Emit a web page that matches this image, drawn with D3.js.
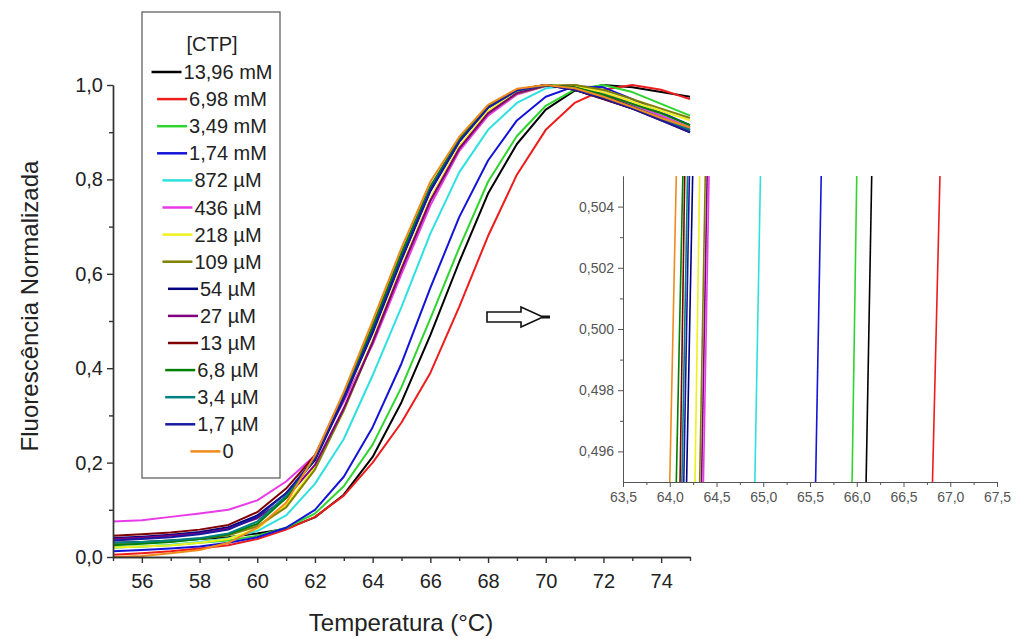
<!DOCTYPE html>
<html>
<head>
<meta charset="utf-8">
<title>Fluorescência Normalizada - CTP</title>
<script src="https://d3js.org/d3.v7.min.js"></script>
<style>
    body {
        margin: 0;
        background: #fff;
        font-family: 'Liberation Sans', Arial, sans-serif;
    }
    .axis path, .axis line { stroke: #333; stroke-width: 1.4; }
    .axis text { fill: #222; font-family: 'Liberation Sans', Arial, sans-serif; }
    .inset path, .inset line { stroke: #555; stroke-width: 1; }
    .inset text { fill: #555; font-family: 'Liberation Sans', Arial, sans-serif; }
</style>
</head>
<body>
<svg id="chart" width="1018" height="639"></svg>
<script>
// temperatures (°C) of the measured points
const temps = [55,56,57,58,59,60,61,62,63,64,65,66,67,68,69,70,71,72,73,74,75];

const labels = ["13,96 mM","6,98 mM","3,49 mM","1,74 mM","872 µM","436 µM","218 µM",
                "109 µM","54 µM","27 µM","13 µM","6,8 µM","3,4 µM","1,7 µM","0"];
const colors = ["#000000","#ee1c1c","#2ed52e","#1414d8","#2fe0e0","#e83ae8","#f0f01e",
                "#808000","#000080","#800080","#800000","#008000","#008080","#1a1aa0","#f08a1c"];

// normalized fluorescence, one value per temperature
const c13_96mM = [0.030,0.032,0.035,0.038,0.042,0.050,0.060,0.084,0.132,0.212,0.328,0.470,0.625,0.770,0.875,0.948,0.988,1.000,0.995,0.985,0.975];
const c6_98mM  = [0.005,0.008,0.012,0.018,0.025,0.038,0.058,0.085,0.130,0.200,0.285,0.390,0.530,0.680,0.810,0.905,0.962,0.990,1.000,0.990,0.970];
const c3_49mM  = [0.020,0.022,0.025,0.030,0.035,0.045,0.062,0.092,0.150,0.238,0.360,0.505,0.655,0.795,0.892,0.956,0.990,1.000,0.985,0.960,0.935];
const c1_74mM  = [0.012,0.015,0.018,0.022,0.030,0.042,0.062,0.100,0.170,0.275,0.410,0.570,0.720,0.840,0.925,0.975,0.997,0.995,0.970,0.942,0.915];
const c872uM   = [0.020,0.022,0.026,0.032,0.040,0.055,0.088,0.155,0.250,0.385,0.530,0.685,0.815,0.905,0.962,0.993,1.000,0.985,0.960,0.935,0.910];
const c436uM   = [0.075,0.078,0.085,0.092,0.100,0.120,0.160,0.215,0.330,0.450,0.600,0.745,0.860,0.935,0.980,0.998,1.000,0.985,0.960,0.935,0.910];
const c218uM   = [0.020,0.022,0.025,0.030,0.038,0.060,0.110,0.190,0.315,0.460,0.615,0.760,0.870,0.945,0.985,1.000,0.998,0.985,0.965,0.945,0.925];
const c109uM   = [0.028,0.030,0.033,0.038,0.046,0.065,0.105,0.185,0.310,0.455,0.610,0.755,0.865,0.940,0.982,0.998,1.000,0.990,0.970,0.950,0.930];
const c54uM    = [0.040,0.043,0.047,0.053,0.063,0.088,0.135,0.205,0.335,0.475,0.630,0.775,0.880,0.952,0.990,1.000,0.990,0.970,0.950,0.930,0.905];
const c27uM    = [0.038,0.041,0.045,0.050,0.060,0.082,0.125,0.195,0.315,0.455,0.610,0.755,0.865,0.940,0.983,0.999,0.995,0.978,0.955,0.930,0.905];
const c13uM    = [0.045,0.048,0.052,0.058,0.068,0.095,0.145,0.215,0.345,0.485,0.640,0.780,0.885,0.955,0.990,1.000,0.990,0.970,0.950,0.925,0.900];
const c6_8uM   = [0.025,0.028,0.032,0.038,0.048,0.070,0.125,0.210,0.345,0.490,0.645,0.785,0.885,0.955,0.990,1.000,0.995,0.980,0.960,0.940,0.915];
const c3_4uM   = [0.030,0.032,0.035,0.040,0.050,0.075,0.130,0.210,0.340,0.480,0.635,0.780,0.880,0.952,0.988,1.000,0.993,0.975,0.953,0.930,0.905];
const c1_7uM   = [0.035,0.038,0.042,0.048,0.058,0.085,0.135,0.210,0.338,0.478,0.632,0.777,0.880,0.952,0.989,1.000,0.990,0.972,0.950,0.925,0.900];
const c0       = [0.000,0.002,0.008,0.015,0.030,0.062,0.115,0.215,0.350,0.500,0.655,0.795,0.890,0.958,0.992,1.000,0.993,0.975,0.953,0.930,0.910];

const curves = [c13_96mM,c6_98mM,c3_49mM,c1_74mM,c872uM,c436uM,c218uM,
                c109uM,c54uM,c27uM,c13uM,c6_8uM,c3_4uM,c1_7uM,c0];

// zoom around F = 0,5 : temperature where each curve crosses 0,495 and 0,505
const insetY = [0.495, 0.505];
const insetLow  = [66.10,66.81,65.95,65.56,64.91,64.36,64.27,64.32,64.18,64.34,64.11,64.07,64.13,64.15,64.00];
const insetHigh = [66.16,66.89,66.00,65.62,64.97,64.42,64.32,64.38,64.245,64.40,64.16,64.14,64.19,64.21,64.07];

const svg = d3.select("#chart");
const loc = d3.formatLocale({decimal: ",", thousands: ".", grouping: [3], currency: ["", ""]});

// ---- main plot ----
const x = d3.scaleLinear().domain([55, 75]).range([113, 690]);
const y = d3.scaleLinear().domain([0, 1.0]).range([557, 85]);

const line = d3.line().x((d, i) => x(temps[i])).y(d => y(d));

svg.append("g")
    .selectAll("path")
    .data(curves)
    .join("path")
    .attr("d", d => line(d))
    .attr("fill", "none")
    .attr("stroke", (d, i) => colors[i])
    .attr("stroke-width", 2)
    .attr("stroke-linejoin", "round");

// axes
svg.append("g").attr("class", "axis")
    .attr("transform", "translate(0,557)")
    .call(d3.axisBottom(x).tickValues(d3.range(56, 75, 2)).tickSize(6).tickSizeOuter(0).tickPadding(11).tickFormat(d3.format("d")))
    .selectAll("text").style("font-size", "20px");
svg.append("g").attr("class", "axis")
    .attr("transform", "translate(0,557)")
    .call(d3.axisBottom(x).tickValues(d3.range(55, 76, 2)).tickSize(4).tickSizeOuter(0).tickFormat(""));

svg.append("g").attr("class", "axis")
    .attr("transform", "translate(113,0)")
    .call(d3.axisLeft(y).tickValues([0, 0.2, 0.4, 0.6, 0.8, 1.0]).tickSize(6).tickSizeOuter(0).tickPadding(4).tickFormat(loc.format(".1f")))
    .selectAll("text").style("font-size", "20px");
svg.append("g").attr("class", "axis")
    .attr("transform", "translate(113,0)")
    .call(d3.axisLeft(y).tickValues([0.1, 0.3, 0.5, 0.7, 0.9]).tickSize(4).tickSizeOuter(0).tickFormat(""));

svg.append("text")
    .attr("x", 401).attr("y", 631)
    .attr("text-anchor", "middle")
    .style("font-size", "24px").style("fill", "#222")
    .text("Temperatura (°C)");

svg.append("text")
    .attr("transform", "translate(38,306) rotate(-90)")
    .attr("text-anchor", "middle")
    .style("font-size", "24px").style("fill", "#222")
    .text("Fluorescência Normalizada");

// ---- legend ----
const legend = svg.append("g");
legend.append("rect")
    .attr("x", 142).attr("y", 12).attr("width", 138).attr("height", 466)
    .attr("fill", "#fff").attr("stroke", "#555").attr("stroke-width", 1.2);
legend.append("text")
    .attr("x", 212).attr("y", 51)
    .attr("text-anchor", "middle")
    .style("font-size", "20px").style("fill", "#222")
    .text("[CTP]");

labels.forEach((lab, i) => {
    const yy = 72 + i * 27.1;
    const g = legend.append("g");
    const t = g.append("text")
        .attr("x", 0).attr("y", yy + 7)
        .style("font-size", "20px").style("fill", "#222")
        .text(lab);
    const w = t.node().getComputedTextLength();
    const total = 30 + 2 + w;
    const x0 = 212 - total / 2;
    g.append("line")
        .attr("x1", x0).attr("x2", x0 + 30)
        .attr("y1", yy).attr("y2", yy)
        .attr("stroke", colors[i]).attr("stroke-width", 2.5);
    t.attr("x", x0 + 32);
});

// ---- arrow ----
svg.append("path")
    .attr("d", "M487,312 L521,312 L521,307 L543,317 L521,327 L521,322 L487,322 Z")
    .attr("fill", "#fff").attr("stroke", "#111").attr("stroke-width", 1.6);
svg.append("line")
    .attr("x1", 542).attr("x2", 550).attr("y1", 317).attr("y2", 317)
    .attr("stroke", "#111").attr("stroke-width", 3);

// ---- inset ----
const xi = d3.scaleLinear().domain([63.5, 67.5]).range([623, 997]);
const yi = d3.scaleLinear().domain([0.495, 0.505]).range([482, 176]);

svg.append("g")
    .selectAll("line")
    .data(labels)
    .join("line")
    .attr("x1", (d, i) => xi(insetLow[i]))
    .attr("x2", (d, i) => xi(insetHigh[i]))
    .attr("y1", yi(insetY[0]))
    .attr("y2", yi(insetY[1]))
    .attr("stroke", (d, i) => colors[i])
    .attr("stroke-width", 1.6);

svg.append("g").attr("class", "axis inset")
    .attr("transform", "translate(0,482)")
    .call(d3.axisBottom(xi).tickValues(d3.range(63.5, 67.51, 0.5)).tickSize(5).tickSizeOuter(0).tickPadding(5).tickFormat(loc.format(".1f")))
    .selectAll("text").style("font-size", "14px");
svg.append("g").attr("class", "axis inset")
    .attr("transform", "translate(0,482)")
    .call(d3.axisBottom(xi).tickValues(d3.range(63.75, 67.5, 0.5)).tickSize(3).tickSizeOuter(0).tickFormat(""));

svg.append("g").attr("class", "axis inset")
    .attr("transform", "translate(623,0)")
    .call(d3.axisLeft(yi).tickValues([0.496, 0.498, 0.500, 0.502, 0.504]).tickSize(5).tickSizeOuter(0).tickPadding(4).tickFormat(loc.format(".3f")))
    .selectAll("text").style("font-size", "14px");
svg.append("g").attr("class", "axis inset")
    .attr("transform", "translate(623,0)")
    .call(d3.axisLeft(yi).tickValues([0.497, 0.499, 0.501, 0.503]).tickSize(3).tickSizeOuter(0).tickFormat(""));
</script>
</body>
</html>
